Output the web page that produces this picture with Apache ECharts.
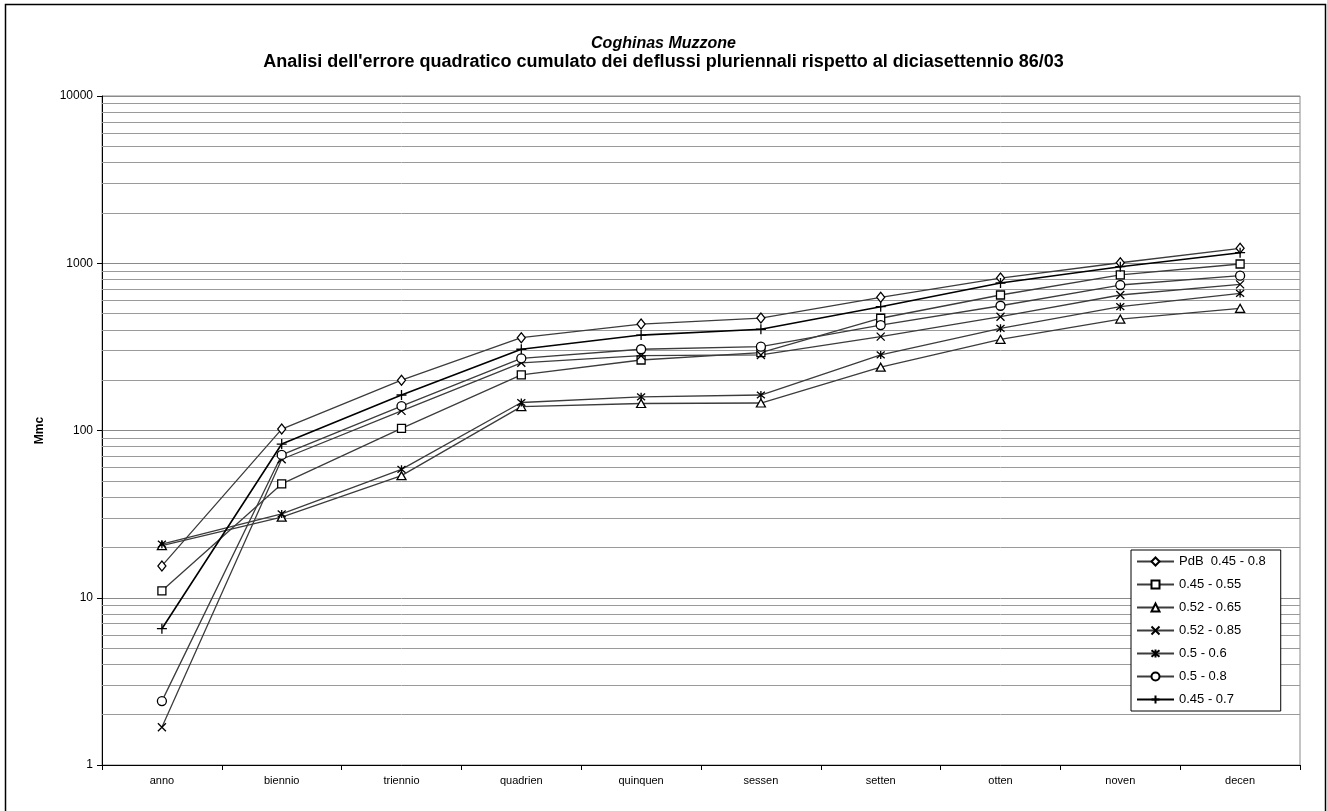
<!DOCTYPE html>
<html>
<head>
<meta charset="utf-8">
<script src="https://cdn.jsdelivr.net/npm/echarts@6/dist/echarts.min.js"></script>
<style>
html,body{margin:0;padding:0;background:#fff;}
#chart{width:1327px;height:811px;}
</style>
</head>
<body>
<div id="chart"></div>
<script>
const categories = ['anno','biennio','triennio','quadrien','quinquen','sessen','setten','otten','noven','decen'];
const seriesNames = ['PdB  0.45 - 0.8','0.45 - 0.55','0.52 - 0.65','0.52 - 0.85','0.5 - 0.6','0.5 - 0.8','0.45 - 0.7'];
const pdb_045_08 = [15.5, 102, 200, 359, 433, 470, 626, 816, 1007, 1229];
const s_045_055 = [11.0, 47.9, 103, 215, 264, 292, 469, 646, 851, 990];
const s_052_065 = [20.5, 30.3, 53.7, 139, 145, 146, 239, 351, 464, 538];
const s_052_085 = [1.68, 67.3, 131, 254, 280, 283, 364, 479, 646, 748];
const s_05_06 = [20.9, 31.7, 58.6, 147, 159, 163, 283, 408, 550, 660];
const s_05_08 = [2.41, 71.4, 140, 270, 306, 317, 427, 557, 741, 843];
const s_045_07 = [6.53, 83, 163, 306, 372, 403, 550, 762, 954, 1156];
const yTicks = [1, 10, 100, 1000, 10000];

const seriesData = [pdb_045_08, s_045_055, s_052_065, s_052_085, s_05_06, s_05_08, s_045_07];
const symbols = [
  'diamond',
  'rect',
  'triangle',
  'path://M0,0L10,10M10,0L0,10',
  'path://M0,0L10,10M10,0L0,10M5,-1L5,11',
  'circle',
  'path://M5,0L5,10M0,5L10,5'
];
const symbolSizes = [[8,10], 8, [9,8], 8, 8, 9, 10];
const lineColors = ['#3c3c3c','#3c3c3c','#3c3c3c','#3c3c3c','#3c3c3c','#3c3c3c','#000000'];

// minor log gridlines (2..9 within each decade)
const minorLines = [];
for (let d = 0; d < yTicks.length - 1; d++) {
  for (let m = 2; m <= 9; m++) minorLines.push({ yAxis: yTicks[d] * m });
}

const font = 'Liberation Sans, Arial, sans-serif';
const chart = echarts.init(document.getElementById('chart'), null, { renderer: 'canvas' });

const series = seriesData.map((d, i) => ({
  name: seriesNames[i],
  type: 'line',
  data: d,
  symbol: symbols[i],
  symbolSize: symbolSizes[i],
  showAllSymbol: true,
  z: 3,
  lineStyle: { color: lineColors[i], width: i === 6 ? 1.6 : 1.3 },
  itemStyle: { color: '#ffffff', borderColor: '#000000', borderWidth: 1.3 },
  emphasis: { disabled: true },
  animation: false
}));

series.push({
  name: 'grid',
  type: 'line',
  data: categories.map(() => '-'),
  symbol: 'none',
  z: 1,
  silent: true,
  animation: false,
  markLine: {
    silent: true,
    z: 1,
    symbol: ['none', 'none'],
    label: { show: false },
    lineStyle: { color: '#9a9a9a', type: 'solid', width: 1 },
    emphasis: { disabled: true },
    data: minorLines,
    animation: false
  }
});

chart.setOption({
  backgroundColor: '#ffffff',
  animation: false,
  title: [
    { text: 'Coghinas Muzzone', left: 'center', top: 31,
      textStyle: { fontFamily: font, fontSize: 16, fontWeight: 'bold', fontStyle: 'italic', color: '#000' } },
    { text: "Analisi dell'errore quadratico cumulato dei deflussi pluriennali rispetto al diciasettennio 86/03", left: 'center', top: 48,
      textStyle: { fontFamily: font, fontSize: 18, fontWeight: 'bold', color: '#000' } }
  ],
  graphic: [
    { type: 'rect', left: 3, top: 2, shape: { width: 1320, height: 815 },
      style: { fill: 'none', stroke: '#000', lineWidth: 1.5 }, silent: true, z: 100 }
  ],
  legend: {
    orient: 'vertical',
    left: 1131, top: 550,
    z: 50,
    data: seriesNames,
    backgroundColor: '#fff',
    borderColor: '#000',
    borderWidth: 1,
    padding: [5, 15, 5, 5],
    itemWidth: 37,
    itemHeight: 10,
    itemGap: 10,
    selectedMode: false,
    textStyle: { fontFamily: font, fontSize: 13, color: '#000' }
  },
  grid: { left: 102, right: 27, top: 96, bottom: 46, show: true, borderColor: '#8a8a8a', borderWidth: 1 },
  xAxis: {
    type: 'category',
    data: categories,
    boundaryGap: true,
    axisLine: { lineStyle: { color: '#000', width: 1 } },
    axisTick: { show: true, length: 5, lineStyle: { color: '#000' } },
    axisLabel: { fontFamily: font, fontSize: 11, color: '#000', margin: 10 },
    splitLine: { show: false }
  },
  yAxis: {
    type: 'log',
    logBase: 10,
    min: 1,
    max: 10000,
    name: 'Mmc',
    nameLocation: 'middle',
    nameRotate: 90,
    nameGap: 56,
    nameTextStyle: { fontFamily: font, fontSize: 12, fontWeight: 'bold', color: '#000' },
    axisLine: { show: true, lineStyle: { color: '#000', width: 1 } },
    axisTick: { show: true, length: 5, lineStyle: { color: '#000' } },
    axisLabel: { fontFamily: font, fontSize: 12, color: '#000', margin: 9, formatter: v => String(Math.round(v)) },
    splitLine: { show: true, lineStyle: { color: '#8a8a8a', width: 1 } }
  },
  series: series
});
</script>
</body>
</html>
